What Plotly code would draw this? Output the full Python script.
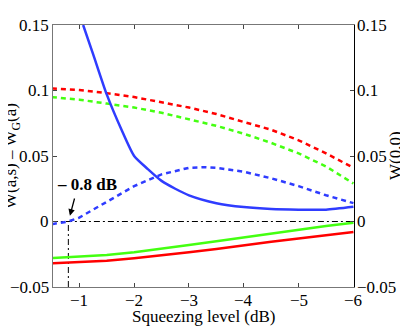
import plotly.graph_objects as go

# squeezing level (dB)
sq = [-0.5, -1, -1.5, -2, -2.5, -3, -3.5, -4, -4.5, -5, -5.5, -6]

red_dash = [0.1015, 0.1003, 0.098, 0.095, 0.091, 0.087, 0.082, 0.076, 0.07, 0.062, 0.052, 0.041]
green_dash = [0.095, 0.093, 0.09, 0.087, 0.083, 0.078, 0.073, 0.067, 0.06, 0.052, 0.042, 0.029]
red_solid = [-0.032, -0.031, -0.030, -0.028, -0.026, -0.0235, -0.021, -0.018, -0.0155, -0.013, -0.0105, -0.008]
green_solid = [-0.028, -0.027, -0.0255, -0.0235, -0.021, -0.018, -0.015, -0.012, -0.009, -0.006, -0.0035, -0.001]

blue_dash_x = [-0.5, -0.8, -1, -1.5, -2, -2.5, -3, -3.3, -3.5, -4, -4.5, -5, -5.5, -6]
blue_dash = [-0.002, 0, 0.003, 0.015, 0.027, 0.036, 0.041, 0.0415, 0.041, 0.038, 0.033, 0.027, 0.02, 0.014]

blue_solid_x = [-1.07, -1.25, -1.5, -1.77, -2, -2.25, -2.5, -2.75, -3, -3.5, -4, -4.5, -5, -5.5, -6]
blue_solid = [0.15, 0.128, 0.097, 0.07, 0.05, 0.04, 0.031, 0.025, 0.02, 0.014, 0.011, 0.0095, 0.009, 0.009, 0.0112]

threshold = -0.8
xticks = [-1, -2, -3, -4, -5, -6]
xtick_text = ["−1", "−2", "−3", "−4", "−5", "−6"]
yticks = [-0.05, 0, 0.05, 0.1, 0.15]
ytick_text = ["−0.05", "0", "0.05", "0.1", "0.15"]

RED = "#ff0000"
GREEN = "#44ff11"
BLUE = "#2f3cff"
font = "Liberation Serif"
tfont = dict(family=font, size=17, color="black")

fig = go.Figure()
fig.add_trace(go.Scatter(x=[sq[0], sq[-1]], y=[0, 0], mode="lines",
                         line=dict(color="black", width=1, dash="6px,3px,2px,3px")))
fig.add_trace(go.Scatter(x=[threshold, threshold], y=[-0.05, 0], mode="lines",
                         line=dict(color="black", width=1, dash="6px,3px,2px,3px")))
fig.add_trace(go.Scatter(x=sq, y=red_dash, mode="lines", line=dict(color=RED, width=2.5, dash="5px,4px")))
fig.add_trace(go.Scatter(x=sq, y=green_dash, mode="lines", line=dict(color=GREEN, width=2.5, dash="5px,4px")))
fig.add_trace(go.Scatter(x=blue_dash_x, y=blue_dash, mode="lines", line=dict(color=BLUE, width=2.5, dash="5px,4px")))
fig.add_trace(go.Scatter(x=blue_solid_x, y=blue_solid, mode="lines",
                         line=dict(color=BLUE, width=2.5, shape="spline", smoothing=0.6)))
fig.add_trace(go.Scatter(x=sq, y=red_solid, mode="lines", line=dict(color=RED, width=2.5)))
fig.add_trace(go.Scatter(x=sq, y=green_solid, mode="lines", line=dict(color=GREEN, width=2.5)))
# dummy trace so the right axis is drawn
fig.add_trace(go.Scatter(x=[sq[0]], y=[0], yaxis="y2", mode="markers", marker=dict(opacity=0),
                         hoverinfo="skip"))

fig.add_annotation(x=threshold, y=0, ax=-0.92, ay=0.0187, axref="x", ayref="y",
                   text="", showarrow=True, arrowhead=2, arrowsize=1, arrowwidth=1.3,
                   arrowcolor="black", standoff=6)
fig.add_annotation(x=-1.14, y=0.0279, text="<b>– 0.8 dB</b>", showarrow=False,
                   font=dict(family=font, size=17, color="black"))

# tick labels as annotations so they get the serif font
for v, t in zip(xticks, xtick_text):
    fig.add_annotation(x=v, xref="x", y=0, yref="paper", yshift=-13, yanchor="middle",
                       text=t, showarrow=False, font=tfont)
for v, t in zip(yticks, ytick_text):
    fig.add_annotation(x=0, xref="paper", y=v, yref="y", xshift=-2, xanchor="right",
                       yanchor="middle", text=t, showarrow=False, font=tfont)
    fig.add_annotation(x=1, xref="paper", y=v, yref="y", xshift=1, xanchor="left",
                       yanchor="middle", text=t, showarrow=False, font=tfont)

# axis titles as annotations (page body adds an 8px offset)
fig.add_annotation(xref="paper", yref="paper", x=0.5, y=0, yshift=-29, yanchor="middle",
                   text="Squeezing level (dB)", showarrow=False, font=tfont)
fig.add_annotation(xref="paper", yref="paper", x=0, y=0.5, xshift=-41, textangle=-90,
                   xanchor="center", yanchor="middle",
                   text="W(a,s) – W<sub>G</sub>(a)", showarrow=False, font=tfont)
fig.add_annotation(xref="paper", yref="paper", x=1, y=0.5, xshift=41, textangle=-90,
                   xanchor="center", yanchor="middle",
                   text="W(0,0)", showarrow=False, font=tfont)

fig.update_layout(
    template="none",
    width=400, height=324,
    margin=dict(l=45, r=54, t=17, b=45),
    plot_bgcolor="white", paper_bgcolor="white",
    showlegend=False,
    font=tfont,
    xaxis=dict(range=[-0.52, -6.01], tickvals=xticks, showticklabels=False,
               ticks="inside", ticklen=4, showgrid=False, zeroline=False, automargin=False,
               showline=True, linecolor="#777777", linewidth=1, mirror="ticks"),
    yaxis=dict(range=[-0.05, 0.15], tickvals=yticks, showticklabels=False,
               automargin=False, ticks="inside", ticklen=4, showgrid=False, zeroline=False,
               showline=True, linecolor="#777777", linewidth=1),
    yaxis2=dict(range=[-0.05, 0.15], overlaying="y", side="right",
                tickvals=yticks, showticklabels=False, automargin=False,
                ticks="inside", ticklen=4, showgrid=False, zeroline=False,
                showline=True, linecolor="black", linewidth=1.3),
)

fig.write_html("out.html")
